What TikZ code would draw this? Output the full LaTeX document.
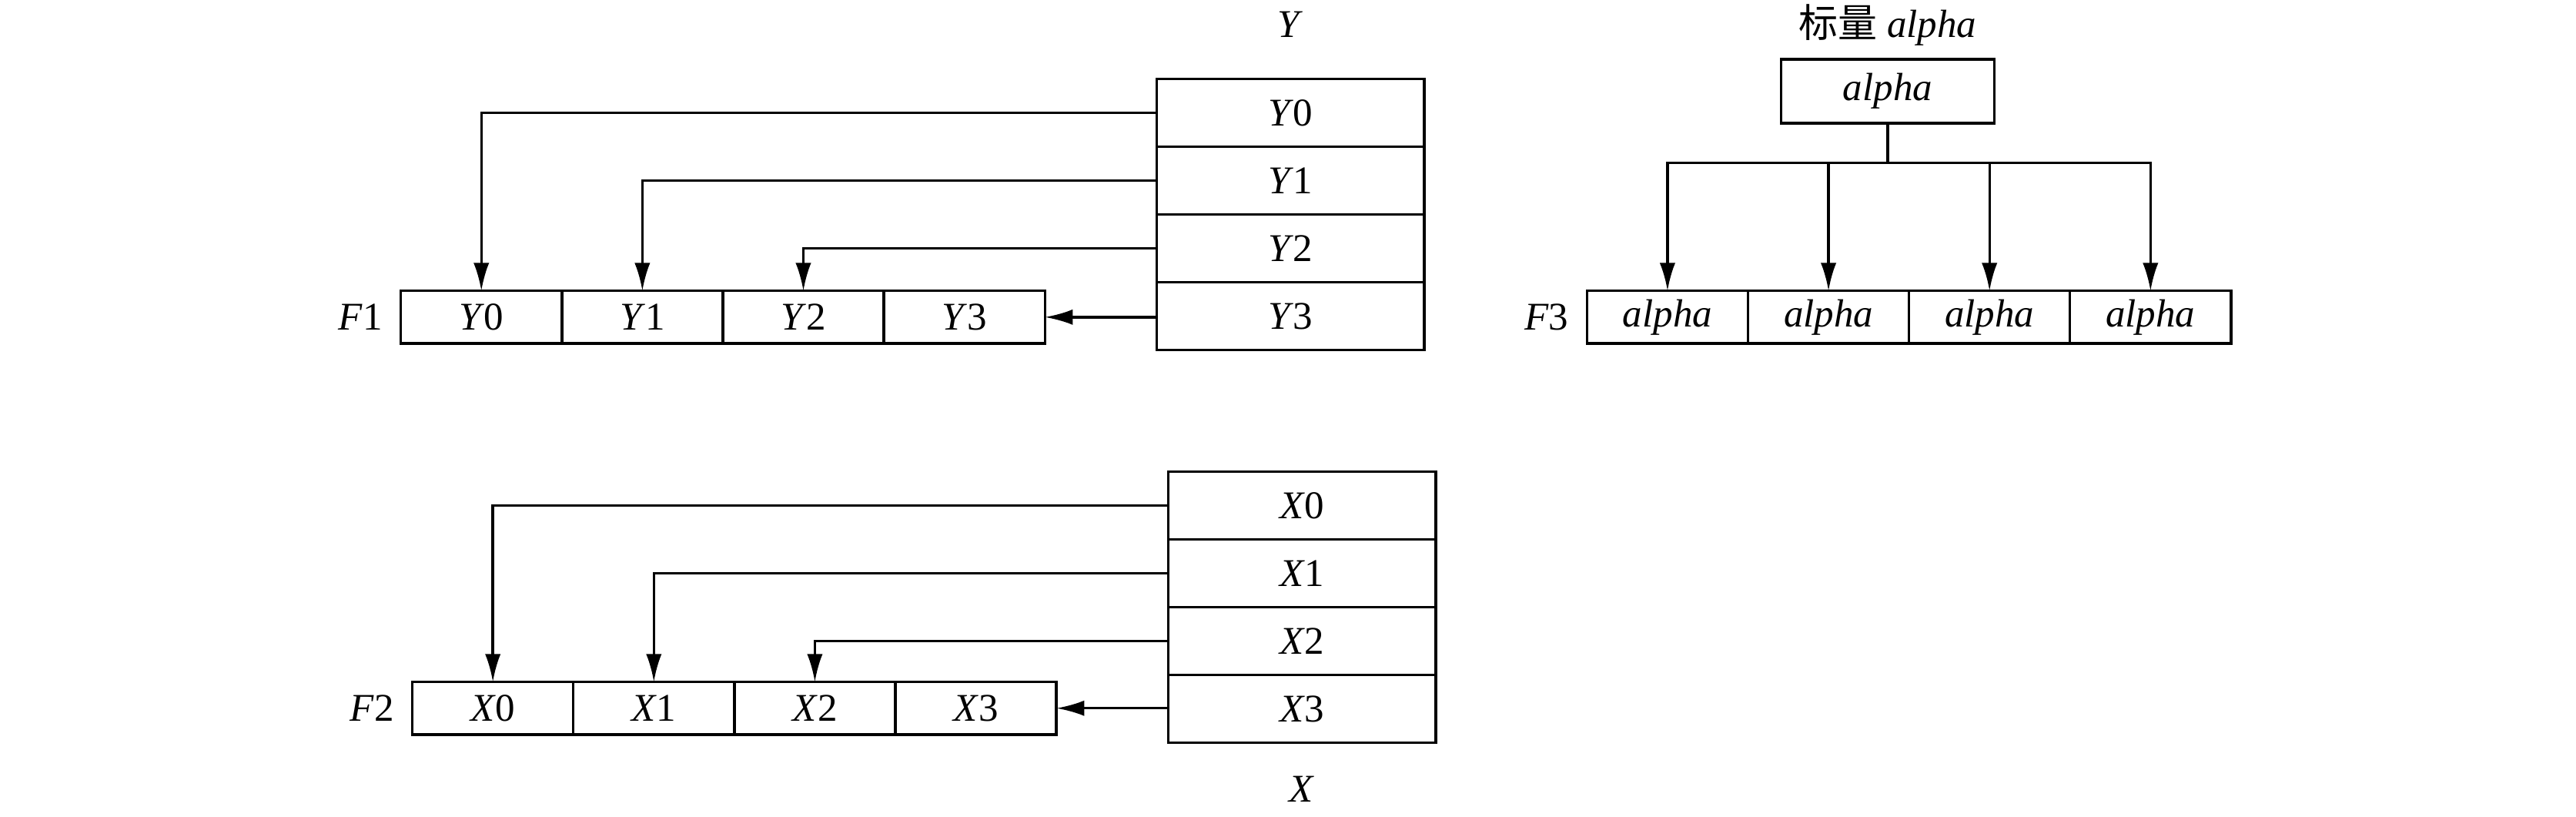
\documentclass[tikz,border=0pt]{standalone}
\usepackage{fontspec}
\setmainfont{Liberation Serif}
\newfontfamily\cjk{Noto Sans CJK SC}
\usetikzlibrary{arrows.meta, positioning}
\tikzset{
  cell/.style={draw, line width=0.9pt, minimum width=19.6mm, minimum height=6.4mm, inner sep=0pt, outer sep=0pt},
  colcell/.style={cell, minimum width=32.6mm, minimum height=8.25mm},
  scal/.style={cell, minimum width=26mm, minimum height=7.8mm},
  arr/.style={-{Latex[length=3.4mm,width=1.9mm]}, line width=0.9pt},
}

\begin{document}
\begin{tikzpicture}[x=0.2mm, y=-0.2mm, font=\fontsize{13.6pt}{16pt}\selectfont]
    \useasboundingbox (0,0) rectangle (1568,497);
    % Y column and F1
    \node (ylab) at (785.5,15) {\textit{Y}};
    \foreach \i in {0,...,3} {
        \node[colcell] (y\i) at (785.5,68.6+41.25*\i) {\textit{Y}\i};
        \node[cell] (f1\i) at (293+98*\i,193) {\textit{Y}\i};
    }
    \node[anchor=east] (f1lab) at (239,193) {\textit{F}1};
    \foreach \i in {0,1,2}
        \draw[arr] (y\i.west) -| (f1\i.north);
    \draw[arr] (y3.west |- f13.east) -- (f13.east);
    % X column and F2
    \node (xlab) at (792.5,480) {\textit{X}};
    \foreach \i in {0,...,3} {
        \node[colcell] (x\i) at (792.5,307.6+41.25*\i) {\textit{X}\i};
        \node[cell] (f2\i) at (300+98*\i,431) {\textit{X}\i};
    }
    \node[anchor=east] (f2lab) at (246,431) {\textit{F}2};
    \foreach \i in {0,1,2}
        \draw[arr] (x\i.west) -| (f2\i.north);
    \draw[arr] (x3.west |- f23.east) -- (f23.east);
    % scalar alpha and F3
    \node (alab) at (1149,15) {{\cjk 标量} \textit{alpha}};
    \node[scal] (al) at (1149,55.5) {\textit{alpha}};
    \coordinate (bus) at (1149,99);
    \foreach \i in {0,...,3}
        \node[cell] (f3\i) at (1015+98*\i,193) {\textit{alpha}};
    \node[anchor=east] (f3lab) at (961,193) {\textit{F}3};
    \draw[line width=0.9pt] (al.south) -- (bus);
    \foreach \i in {0,...,3}
        \draw[arr] (bus) -| (f3\i.north);
\end{tikzpicture}
\end{document}
